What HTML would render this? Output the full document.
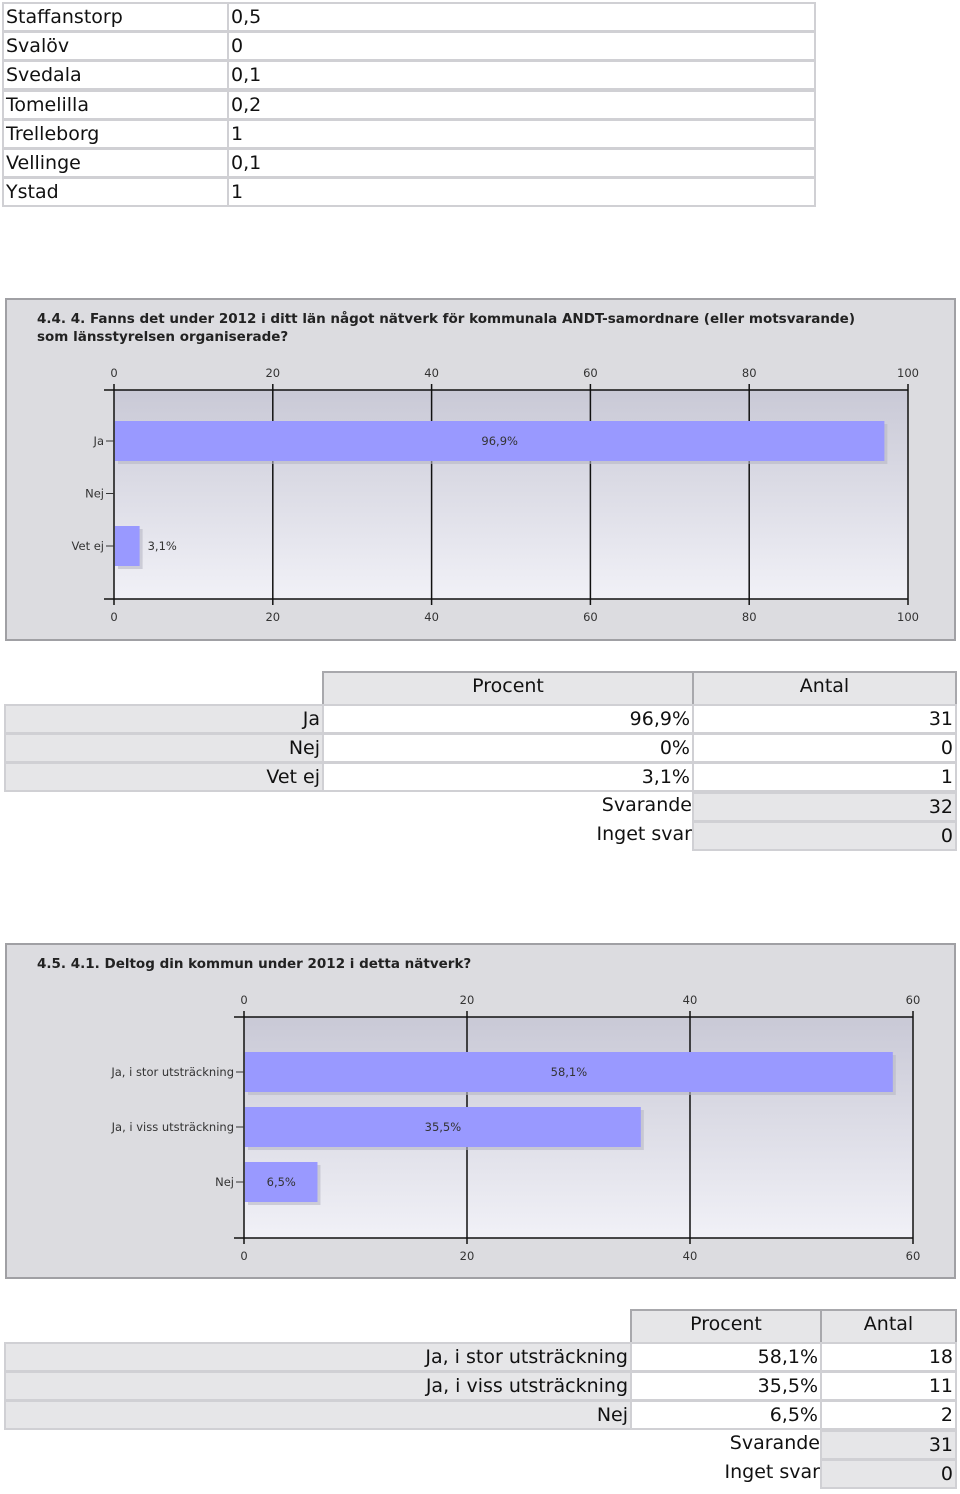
<!DOCTYPE html>
<html><head><meta charset="utf-8">
<style>
body{margin:0;width:960px;height:1494px;background:#fff;position:relative;font-family:"DejaVu Sans","Liberation Sans",sans-serif;overflow:hidden}
.c{position:absolute;box-sizing:border-box;font-size:19px;color:#111;line-height:27px;white-space:nowrap;overflow:hidden}
.l{text-align:left;padding-left:2px}
.r{text-align:right;padding-right:2px}
.m{text-align:center}
.g{background:#e6e6e8;border:2px solid #d0d0d4}
.w{background:#fff;border:2px solid #d0d0d4}
.h{background:#e6e6e8;border:2px solid #a8a8ac}
.chart{position:absolute;border:2px solid #a0a0a4;box-sizing:border-box;background:#dcdce0}
</style></head><body>

<div id="t0"></div>
<div id="t1"></div>
<div id="t2"></div>

<div class="chart" style="left:5px;top:298px;width:951px;height:343px">
<svg id="ch1" width="951" height="343" xmlns="http://www.w3.org/2000/svg"></svg></div>
<div class="chart" style="left:5px;top:943px;width:951px;height:336px">
<svg id="ch2" width="951" height="336" xmlns="http://www.w3.org/2000/svg"></svg></div>

<script>
function cell(parent,cls,x,y,w,h,txt,name){
  var d=document.createElement('div');
  d.className='c '+cls;
  d.style.cssText='left:'+x+'px;top:'+y+'px;width:'+w+'px;height:'+h+'px';
  d.textContent=txt;
  
  
  document.body.appendChild(d);
}
// top table
var towns=["Staffanstorp","Svalöv","Svedala","Tomelilla","Trelleborg","Vellinge","Ystad"];
var townVals=["0,5","0","0,1","0,2","1","0,1","1"];
towns.forEach(function(t,i){
  var y=2+i*29.2;
  cell(null,'w l',2,y,227,30,t,'town-name-cell');
  cell(null,'w l',227,y,589,30,townVals[i],'town-value-cell');
});

// table 1
var t1Cats=["Ja","Nej","Vet ej"];
var t1Pct=["96,9%","0%","3,1%"];
var t1Cnt=["31","0","1"];
cell(null,'h m',322,671,372,35,'Procent','header-procent');
cell(null,'h m',692,671,265,35,'Antal','header-antal');
t1Cats.forEach(function(c,i){
  var y=704+i*29.2;
  cell(null,'g r',4,y,320,30,c,'row-label');
  cell(null,'w r',322,y,372,30,t1Pct[i],'row-percent');
  cell(null,'w r',692,y,265,30,t1Cnt[i],'row-count');
});
cell(null,'r',322,792,372,30,'Svarande','svarande-label');
cell(null,'g r',692,792,265,30,'32','svarande-value');
cell(null,'r',322,821,372,30,'Inget svar','inget-svar-label');
cell(null,'g r',692,821,265,30,'0','inget-svar-value');

// table 2
var t2Cats=["Ja, i stor utsträckning","Ja, i viss utsträckning","Nej"];
var t2Pct=["58,1%","35,5%","6,5%"];
var t2Cnt=["18","11","2"];
cell(null,'h m',630,1309,192,35,'Procent','header-procent');
cell(null,'h m',820,1309,137,35,'Antal','header-antal');
t2Cats.forEach(function(c,i){
  var y=1342+i*29.2;
  cell(null,'g r',4,y,628,30,c,'row-label');
  cell(null,'w r',630,y,192,30,t2Pct[i],'row-percent');
  cell(null,'w r',820,y,137,30,t2Cnt[i],'row-count');
});
cell(null,'r',420,1430,402,30,'Svarande','svarande-label');
cell(null,'g r',820,1430,137,30,'31','svarande-value');
cell(null,'r',420,1459,402,30,'Inget svar','inget-svar-label');
cell(null,'g r',820,1459,137,30,'0','inget-svar-value');
</script>

<script>
// chart data
var c1Cats=["Ja","Nej","Vet ej"];
var c1Vals=[96.9,0,3.1];
var c1Labels=["96,9%","","3,1%"];
var c1Ticks=[0,20,40,60,80,100];
var c2Cats=["Ja, i stor utsträckning","Ja, i viss utsträckning","Nej"];
var c2Vals=[58.1,35.5,6.5];
var c2Labels=["58,1%","35,5%","6,5%"];
var c2Ticks=[0,20,40,60];

var NS="http://www.w3.org/2000/svg";
function el(svg,tag,attrs,txt){
  var e=document.createElementNS(NS,tag);
  for(var k in attrs)e.setAttribute(k,attrs[k]);
  if(txt!==undefined)e.textContent=txt;
  svg.appendChild(e);return e;
}
function drawChart(id,o){
  var svg=document.getElementById(id);
  var defs=el(svg,'defs',{});
  var lg=document.createElementNS(NS,'linearGradient');
  lg.setAttribute('id',id+'g');lg.setAttribute('x1','0');lg.setAttribute('y1','0');lg.setAttribute('x2','0');lg.setAttribute('y2','1');
  defs.appendChild(lg);
  var s1=document.createElementNS(NS,'stop');s1.setAttribute('offset','0');s1.setAttribute('stop-color','#c9c9d6');lg.appendChild(s1);
  var s2=document.createElementNS(NS,'stop');s2.setAttribute('offset','1');s2.setAttribute('stop-color','#f1f1f7');lg.appendChild(s2);
  function x(v){return o.x0+(v-o.min)/(o.max-o.min)*(o.x1-o.x0);}
  var t=el(svg,'text',{x:o.titleX,y:o.titleY,'font-size':'13.5','font-weight':'bold','fill':'#222','font-family':'DejaVu Sans, sans-serif'});
  o.title.forEach(function(line,i){
    var ts=document.createElementNS(NS,'tspan');ts.setAttribute('x',o.titleX);ts.setAttribute('dy',i?18:0);ts.textContent=line;t.appendChild(ts);
  });
  
  var bg=el(svg,'rect',{x:o.x0,y:o.py0,width:o.x1-o.x0,height:o.py1-o.py0,fill:'url(#'+id+'g)'});
  
  o.ticks.forEach(function(v){
    var g=el(svg,'line',{x1:x(v),x2:x(v),y1:o.py0-6,y2:o.py1+6,stroke:'#111','stroke-width':1.5});
    
    [o.py0-13,o.py1+22].forEach(function(yy){
      var tl=el(svg,'text',{x:x(v),y:yy,'font-size':'11.5','text-anchor':'middle',fill:'#333','font-family':'DejaVu Sans, sans-serif'},String(v));
      
    });
  });
  el(svg,'line',{x1:o.x0-10,x2:o.x1,y1:o.py0,y2:o.py0,stroke:'#111','stroke-width':1.5});
  el(svg,'line',{x1:o.x0-10,x2:o.x1,y1:o.py1,y2:o.py1,stroke:'#111','stroke-width':1.5});
  var n=o.cats.length,bw=(o.py1-o.py0)/n;
  var top0=o.py0+o.pad;
  o.cats.forEach(function(c,i){
    var cy=top0+i*o.step;
    el(svg,'line',{x1:o.x0-8,x2:o.x0,y1:cy,y2:cy,stroke:'#333','stroke-width':1});
    var cl=el(svg,'text',{x:o.x0-10,y:cy+4,'font-size':'11.5','text-anchor':'end',fill:'#333','font-family':'DejaVu Sans, sans-serif'},c);
    
    if(o.vals[i]>0){
      var bx=x(0)+1,w=x(o.vals[i])-x(0);
      el(svg,'rect',{x:bx+3,y:cy-20+3,width:w,height:40,fill:'#b8b8c4',opacity:0.6});
      var b=el(svg,'rect',{x:bx,y:cy-20,width:w,height:40,fill:'#9999ff'});
      
      var lx=w>60?bx+w/2:bx+w+8;
      var vl=el(svg,'text',{x:lx,y:cy+4,'font-size':'11.5','text-anchor':w>60?'middle':'start',fill:'#333','font-family':'DejaVu Sans, sans-serif'},o.labels[i]);
      
    }
  });
}
drawChart('ch1',{cats:c1Cats,vals:c1Vals,labels:c1Labels,ticks:c1Ticks,min:0,max:100,x0:107,x1:901,py0:90,py1:299,pad:51,step:52.5,
  title:["4.4. 4. Fanns det under 2012 i ditt län något nätverk för kommunala ANDT-samordnare (eller motsvarande)","som länsstyrelsen organiserade?"],titleX:30,titleY:23});
drawChart('ch2',{cats:c2Cats,vals:c2Vals,labels:c2Labels,ticks:c2Ticks,min:0,max:60,x0:237,x1:906,py0:72,py1:293,pad:55,step:55,
  title:["4.5. 4.1. Deltog din kommun under 2012 i detta nätverk?"],titleX:30,titleY:23});
</script>
</body></html>
